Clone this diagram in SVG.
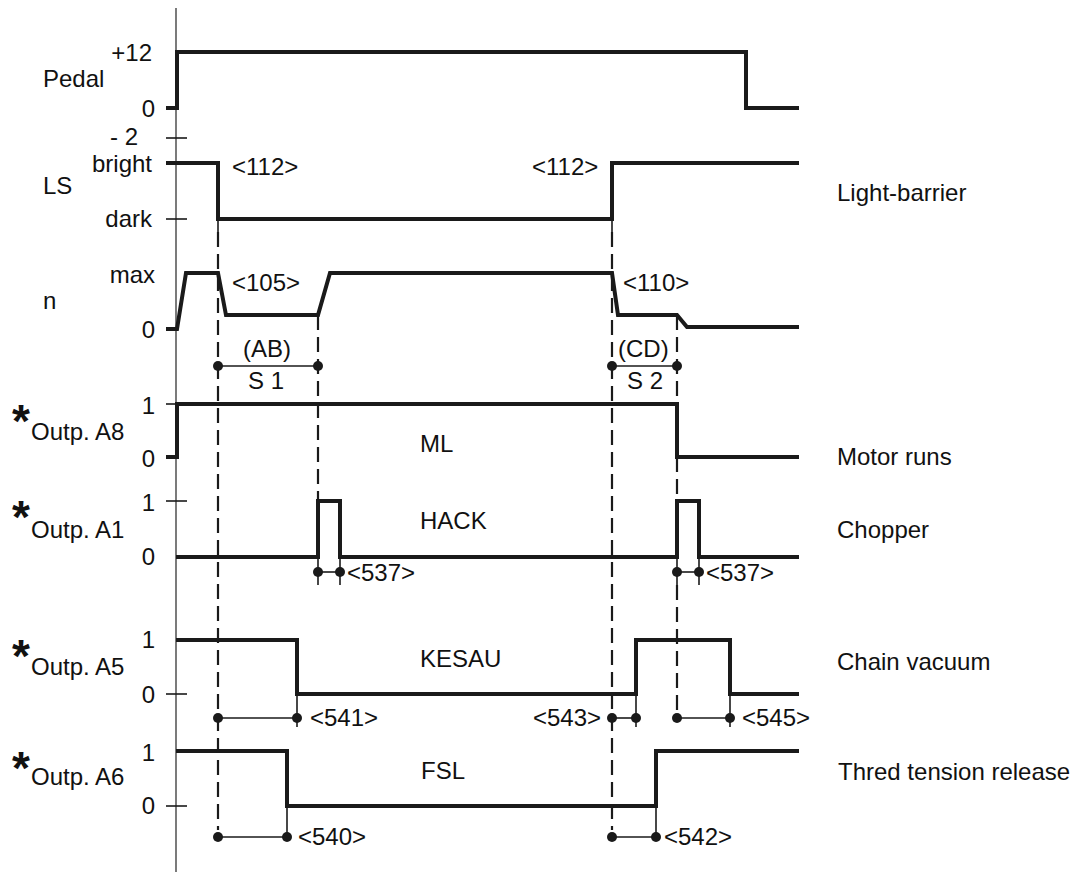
<svg xmlns="http://www.w3.org/2000/svg" width="1079" height="872" viewBox="0 0 1079 872">
<style>
text{font-family:"Liberation Sans",Arial,sans-serif;font-size:24px;fill:#111}
.r{text-anchor:end}
.ast{font-size:46px;font-weight:bold}
.sig{fill:none;stroke:#1a1a1a;stroke-width:4;stroke-linejoin:miter}
.thin{fill:none;stroke:#1a1a1a;stroke-width:1.6}
.axis{fill:none;stroke:#333;stroke-width:1.3}
.dash{fill:none;stroke:#1a1a1a;stroke-width:2.2;stroke-dasharray:15 7}
.dot{fill:#1a1a1a}
</style>
<rect width="1079" height="872" fill="#fff"/>
<g id="axis">
<line class="axis" x1="176" y1="8" x2="176" y2="872"/>
<line class="thin" x1="166" y1="138" x2="187" y2="138"/>
<line class="thin" x1="166" y1="219" x2="187" y2="219"/>
<line class="thin" x1="166" y1="404" x2="178" y2="404"/>
<line class="thin" x1="166" y1="501" x2="187" y2="501"/>
<line class="thin" x1="166" y1="694" x2="187" y2="694"/>
<line class="thin" x1="166" y1="806" x2="187" y2="806"/>
</g>
<g id="pedal">
<text x="43" y="87">Pedal</text>
<text class="r" x="152" y="61">+12</text>
<text class="r" x="155" y="117">0</text>
<text class="r" x="138" y="145">- 2</text>
<polyline class="sig" points="166,108 177,108 177,52 746,52 746,108 799,108"/>
</g>
<g id="ls">
<text x="43" y="194">LS</text>
<text class="r" x="152" y="172">bright</text>
<text class="r" x="152" y="227">dark</text>
<text x="232" y="175">&lt;112&gt;</text>
<text x="532" y="175">&lt;112&gt;</text>
<text x="837" y="201">Light-barrier</text>
<polyline class="sig" points="166,163 218,163 218,219 612,219 612,163 799,163"/>
</g>
<g id="n">
<text x="43" y="309">n</text>
<text class="r" x="155" y="283">max</text>
<text class="r" x="155" y="338">0</text>
<text x="232" y="291">&lt;105&gt;</text>
<text x="623" y="291">&lt;110&gt;</text>
<text x="243" y="357">(AB)</text>
<text x="248" y="389">S 1</text>
<text x="618" y="357">(CD)</text>
<text x="627" y="389">S 2</text>
<polyline class="sig" points="166,329 177,329 186,273 218,273 226,315 318,315 330,273 612,273 618,315 677,315 687,327 799,327"/>
</g>
<g id="a8">
<text class="ast" x="12" y="437">*</text>
<text x="31" y="440">Outp. A8</text>
<text class="r" x="155" y="414">1</text>
<text class="r" x="155" y="467">0</text>
<text x="420" y="452">ML</text>
<text x="837" y="465">Motor runs</text>
<polyline class="sig" points="166,457 177,457 177,404 677,404 677,457 799,457"/>
</g>
<g id="a1">
<text class="ast" x="12" y="533">*</text>
<text x="31" y="538">Outp. A1</text>
<text class="r" x="155" y="511">1</text>
<text class="r" x="155" y="565">0</text>
<text x="420" y="529">HACK</text>
<text x="837" y="538">Chopper</text>
<text x="347" y="581">&lt;537&gt;</text>
<text x="706" y="581">&lt;537&gt;</text>
<polyline class="sig" points="176,557 318,557 318,501 340,501 340,557 677,557 677,501 699,501 699,557 799,557"/>
</g>
<g id="a5">
<text class="ast" x="12" y="672">*</text>
<text x="31" y="675">Outp. A5</text>
<text class="r" x="155" y="648">1</text>
<text class="r" x="155" y="703">0</text>
<text x="420" y="667">KESAU</text>
<text x="837" y="670">Chain vacuum</text>
<text x="310" y="726">&lt;541&gt;</text>
<text x="533" y="726">&lt;543&gt;</text>
<text x="742" y="726">&lt;545&gt;</text>
<polyline class="sig" points="176,640 297,640 297,694 636,694 636,640 730,640 730,694 799,694"/>
</g>
<g id="a6">
<text class="ast" x="12" y="784">*</text>
<text x="31" y="785">Outp. A6</text>
<text class="r" x="155" y="761">1</text>
<text class="r" x="155" y="814">0</text>
<text x="421" y="779">FSL</text>
<text x="838" y="780">Thred tension release</text>
<text x="298" y="845">&lt;540&gt;</text>
<text x="664" y="845">&lt;542&gt;</text>
<polyline class="sig" points="176,751 287,751 287,806 656,806 656,751 799,751"/>
</g>
<g id="connectors">
<line class="thin" x1="218" y1="219" x2="218" y2="232"/>
<line class="dash" x1="218" y1="232" x2="218" y2="830"/>
<line class="thin" x1="612" y1="219" x2="612" y2="232"/>
<line class="dash" x1="612" y1="232" x2="612" y2="830"/>
<line class="dash" x1="318" y1="315" x2="318" y2="501"/>
<line class="dash" x1="677" y1="315" x2="677" y2="404"/>
<line class="dash" x1="677" y1="457" x2="677" y2="501"/>
<line class="dash" x1="677" y1="585" x2="677" y2="712"/>
<line class="thin" x1="218" y1="366" x2="318" y2="366"/>
<line class="thin" x1="612" y1="366" x2="677" y2="366"/>
<line class="thin" x1="318" y1="557" x2="318" y2="585"/>
<line class="thin" x1="340" y1="557" x2="340" y2="585"/>
<line class="thin" x1="318" y1="572" x2="340" y2="572"/>
<line class="thin" x1="677" y1="557" x2="677" y2="585"/>
<line class="thin" x1="699" y1="557" x2="699" y2="585"/>
<line class="thin" x1="677" y1="572" x2="699" y2="572"/>
<line class="thin" x1="297" y1="694" x2="297" y2="727"/>
<line class="thin" x1="636" y1="694" x2="636" y2="727"/>
<line class="thin" x1="730" y1="694" x2="730" y2="727"/>
<line class="thin" x1="218" y1="718" x2="297" y2="718"/>
<line class="thin" x1="612" y1="718" x2="636" y2="718"/>
<line class="thin" x1="677" y1="718" x2="730" y2="718"/>
<line class="thin" x1="287" y1="806" x2="287" y2="837"/>
<line class="thin" x1="656" y1="806" x2="656" y2="837"/>
<line class="thin" x1="218" y1="837" x2="287" y2="837"/>
<line class="thin" x1="612" y1="837" x2="656" y2="837"/>
<circle class="dot" cx="218" cy="366" r="5"/>
<circle class="dot" cx="318" cy="366" r="5"/>
<circle class="dot" cx="612" cy="366" r="5"/>
<circle class="dot" cx="677" cy="366" r="5"/>
<circle class="dot" cx="318" cy="572" r="5"/>
<circle class="dot" cx="340" cy="572" r="5"/>
<circle class="dot" cx="677" cy="572" r="5"/>
<circle class="dot" cx="699" cy="572" r="5"/>
<circle class="dot" cx="218" cy="718" r="5"/>
<circle class="dot" cx="297" cy="718" r="5"/>
<circle class="dot" cx="612" cy="718" r="5"/>
<circle class="dot" cx="636" cy="718" r="5"/>
<circle class="dot" cx="677" cy="718" r="5"/>
<circle class="dot" cx="730" cy="718" r="5"/>
<circle class="dot" cx="218" cy="837" r="5"/>
<circle class="dot" cx="287" cy="837" r="5"/>
<circle class="dot" cx="612" cy="837" r="5"/>
<circle class="dot" cx="656" cy="837" r="5"/>
</g>
</svg>
